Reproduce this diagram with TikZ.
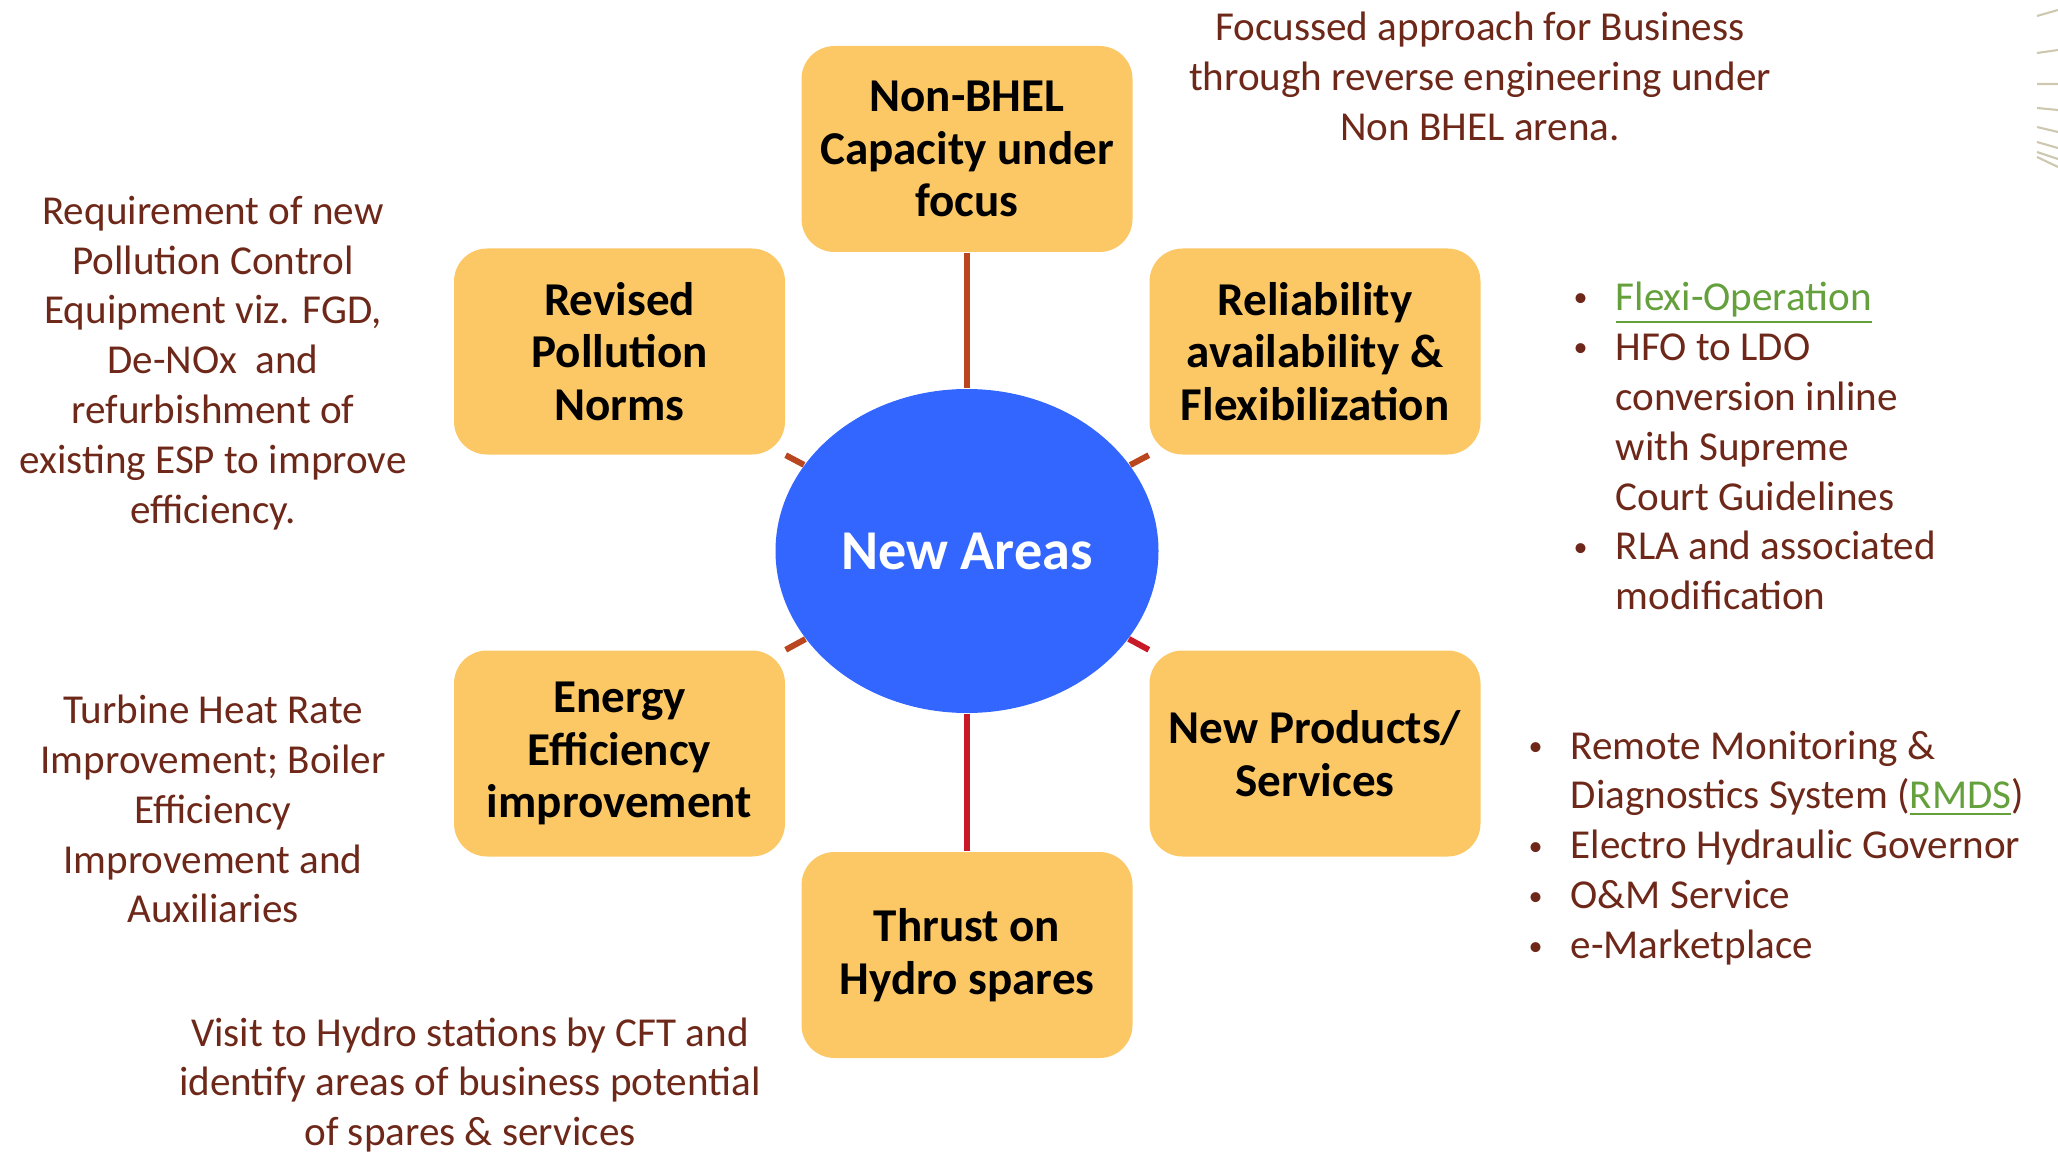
\documentclass[tikz,border=0pt]{standalone}
\usepackage{fontspec}
\setmainfont{Carlito}
\usetikzlibrary{shapes.geometric}
\definecolor{boxorange}{RGB}{252,200,102}
\definecolor{areablue}{RGB}{51,102,255}
\definecolor{notebrown}{RGB}{110,40,25}
\definecolor{spokebrown}{RGB}{185,70,30}
\definecolor{spokered}{RGB}{200,25,40}
\definecolor{linkgreen}{RGB}{100,160,60}
\definecolor{decogrey}{RGB}{205,200,175}
\newcommand{\blt}{\makebox[0.42cm][l]{\raisebox{1pt}{\fontsize{8}{8}\selectfont\textbullet}}}
\newcommand{\bltin}{\makebox[0.42cm][l]{}}
\newcommand{\lnk}[1]{{\color{linkgreen}\underline{#1}}}

\begin{document}
\begin{tikzpicture}[
  area/.style={ellipse, fill=areablue, text=white, minimum width=3.83cm, minimum height=3.24cm, inner sep=0pt, font=\fontsize{16}{19}\selectfont\bfseries},
  topic/.style={rectangle, rounded corners=0.33cm, fill=boxorange, minimum width=3.31cm, minimum height=2.06cm, align=center, font=\fontsize{13.4}{14.9}\selectfont\bfseries},
  note/.style={align=center, text=notebrown, inner sep=0pt, font=\fontsize{11.7}{14.2}\selectfont},
  itemlist/.style={align=left, text=notebrown, inner sep=0pt, anchor=west, font=\fontsize{11.7}{14.2}\selectfont},
  spoke/.style={line width=1.7pt, spokebrown}
]
\useasboundingbox (0,0) rectangle (20.58,-11.52);
\node[area] (areas) at (9.67,-5.51) {New Areas};
\node[topic] (nonbhel) at (9.67,-1.49) {Non-BHEL\\Capacity under\\focus};
\node[topic] (revised) at (6.195,-3.515) {Revised\\Pollution\\Norms};
\node[topic] (reliab) at (13.15,-3.515) {Reliability\\availability \&\\Flexibilization};
\node[topic] (energy) at (6.195,-7.535) {Energy\\Efficiency\\improvement};
\node[topic] (newprod) at (13.15,-7.535) {New Products/\\Services};
\node[topic] (thrust) at (9.67,-9.55) {Thrust on\\Hydro spares};
\draw[spoke] (nonbhel) -- (areas);
\draw[spoke] (areas) -- (revised.south east);
\draw[spoke] (areas) -- (reliab.south west);
\draw[spoke] (areas) -- (energy.north east);
\draw[spoke, spokered] (areas) -- (newprod.north west);
\draw[spoke, spokered] (areas) -- (thrust);
\node[note] (focus) at (14.80,-0.76) {Focussed approach for Business\\through reverse engineering under\\Non BHEL arena.};
\node[note] (pcnote) at (2.13,-3.63) {Requirement of new\\Pollution Control\\Equipment viz. FGD,\\De-NOx~ and\\refurbishment of\\existing ESP to improve\\efficiency.};
\node[note] (heatnote) at (2.13,-8.09) {Turbine Heat Rate\\Improvement; Boiler\\Efficiency\\Improvement and\\Auxiliaries};
\node[note] (hydronote) at (4.70,-10.85) {Visit to Hydro stations by CFT and\\identify areas of business potential\\of spares \& services};
\node[itemlist] (flexlist) at (15.73,-4.46) {\blt\lnk{Flexi-Operation}\\\blt HFO to LDO\\\bltin conversion inline\\\bltin with Supreme\\\bltin Court Guidelines\\\blt RLA and associated\\\bltin modification};
\node[itemlist] (servlist) at (15.28,-8.48) {\blt Remote Monitoring \&\\\bltin Diagnostics System (\lnk{RMDS})\\\blt Electro Hydraulic Governor\\\blt O\&M Service\\\blt e-Marketplace};
\draw[decogrey, line width=0.6pt] (20.37,-0.16) -- (20.58,-0.10) (20.37,-0.53) -- (20.58,-0.50)
  (20.37,-0.84) -- (20.58,-0.84) (20.37,-1.08) -- (20.58,-1.10) (20.37,-1.27) -- (20.58,-1.32)
  (20.37,-1.42) -- (20.58,-1.48) (20.37,-1.52) -- (20.58,-1.59) (20.37,-1.57) -- (20.58,-1.67);
\end{tikzpicture}
\end{document}
